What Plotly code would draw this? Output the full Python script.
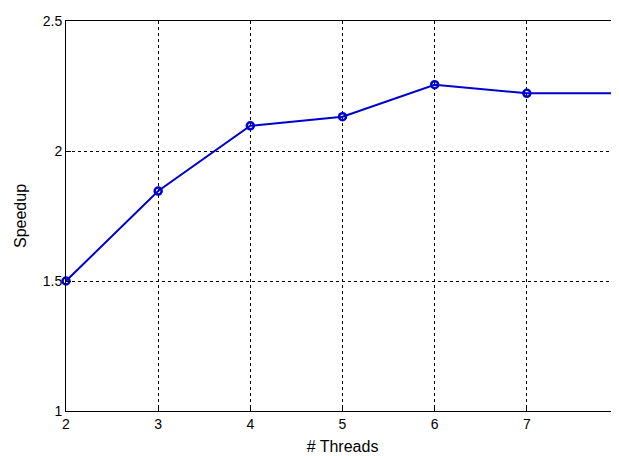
import plotly.graph_objects as go

threads = [2, 3, 4, 5, 6, 7, 8]
speedup = [1.50, 1.846, 2.097, 2.132, 2.255, 2.222, 2.222]
x_ticks = [2, 3, 4, 5, 6, 7, 8]
y_ticks = [1, 1.5, 2, 2.5]
y_tick_labels = ["1", "1.5", "2", "2.5"]

fig = go.Figure()
fig.add_trace(go.Scatter(
    x=threads, y=speedup, mode="lines+markers",
    line=dict(color="#0000cc", width=2),
    marker=dict(symbol="circle-open", size=7, color="#0000cc", line=dict(width=2.5)),
    cliponaxis=False,
))

font = dict(family="Liberation Sans, Arial, sans-serif", size=14, color="black")
title_font = dict(family="Liberation Sans, Arial, sans-serif", size=16, color="black")
axis_common = dict(
    showline=True, linecolor="black", linewidth=1, mirror=True,
    showgrid=True, gridcolor="black", griddash="dot", gridwidth=1,
    ticks="inside", ticklen=5, tickcolor="black",
    zeroline=False, tickfont=font, automargin=False,
    ticklabeloverflow="allow",
)
fig.update_xaxes(range=[2, 8], tickvals=x_ticks,
                 title=dict(text="# Threads", font=title_font, standoff=10), **axis_common)
fig.update_yaxes(range=[1, 2.5], tickvals=y_ticks, ticktext=y_tick_labels,
                 title=dict(text="Speedup", font=title_font, standoff=12), **axis_common)
# the page places the figure 8px from the top-left corner, so the size and margins allow for that
fig.update_layout(
    width=611, height=448,
    margin=dict(l=58, r=0, t=13, b=45),
    plot_bgcolor="white", paper_bgcolor="white",
    showlegend=False, font=font,
)
fig.write_html("out.html")
